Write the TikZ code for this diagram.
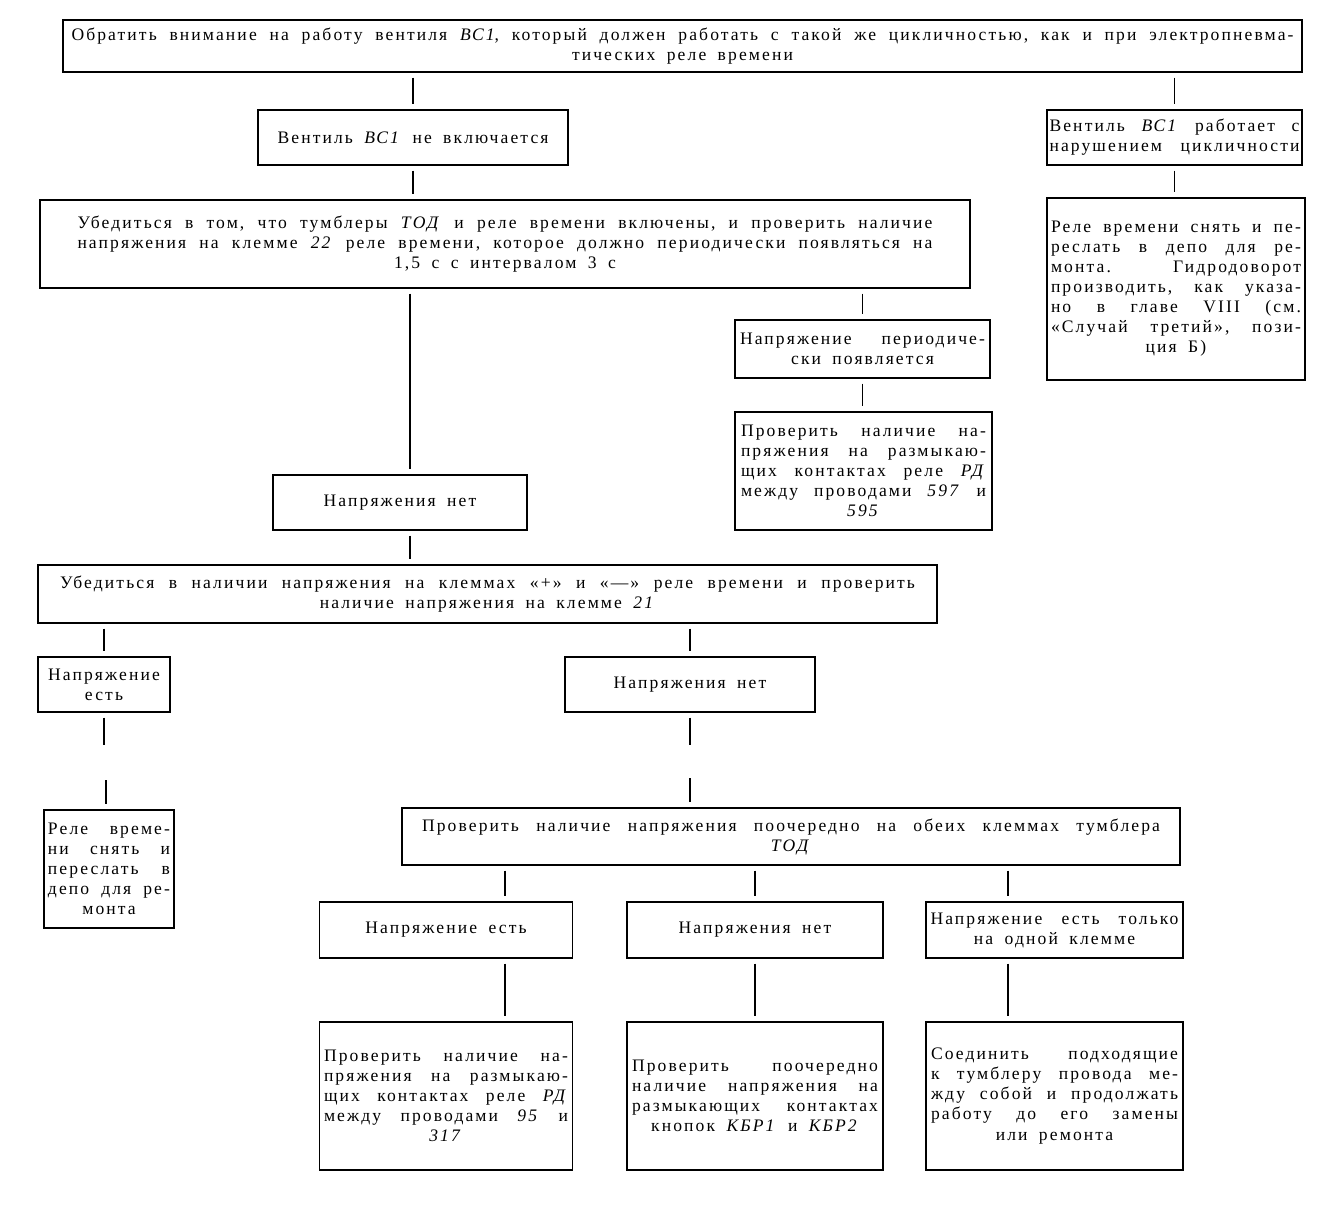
\documentclass[tikz,border=0pt]{standalone}
\usepackage{fontspec}
\setmainfont{Liberation Serif}[LetterSpace=12]
\usetikzlibrary{calc}
% text of the boxes; one justified line, one centred line
\newcommand\boxfont{\fontsize{10}{11.4}\selectfont\frenchspacing\spaceskip=0.65em\relax}
\newcommand\jl[1]{\leavevmode\hbox to\hsize{\spaceskip=0.35em plus 1fil\relax#1}\par}
\newcommand\cl[1]{\leavevmode\hbox to\hsize{\spaceskip=0.65em\relax\hfil#1\hfil}\par}

\begin{document}
\begin{tikzpicture}[x=0.02cm,y=-0.02cm,line width=0.8pt,font=\boxfont,
    panel/.style 2 args={draw,inner sep=0pt,minimum width=#1*0.02cm,minimum height=#2*0.02cm},
    tw/.code={\pgfmathsetlengthmacro\twlen{#1*0.02cm}\tikzset{text width=\twlen}},
    link/.style={shorten <=0.1cm,shorten >=0.1cm}]
            \useasboundingbox (0,0) rectangle (1336,1208);
            \node[panel={1239}{52},tw=1222] (watch) at (682.5,46) {\jl{Обратить внимание на работу вентиля \textit{ВС1}, который должен работать с такой же цикличностью, как и при электропневма-}\cl{тических реле времени}};
            \node[panel={310}{55}] (vent) at (413,137.5) {Вентиль \textit{ВС1} не включается};
            \node[panel={255}{55},tw=250] (cyc) at (1174.5,137.5) {\jl{Вентиль \textit{ВС1} работает с}\jl{нарушением цикличности}};
            \node[panel={930}{88},tw=855] (check) at (505,244) {\jl{Убедиться в том, что тумблеры \textit{ТОД} и реле времени включены, и проверить наличие}\jl{напряжения на клемме \textit{22} реле времени, которое должно периодически появляться на}\cl{1,5 с с интервалом 3 с}};
            \node[panel={258}{182},tw=250] (relay) at (1176,289) {\jl{Реле времени снять и пе-}\jl{реслать в депо для ре-}\jl{монта. Гидродоворот}\jl{производить, как указа-}\jl{но в главе VIII (см.}\jl{«Случай третий», пози-}\cl{ция Б)}};
            \node[panel={255}{58},tw=245] (periodic) at (862.5,349) {\jl{Напряжение периодиче-}\cl{ски появляется}};
            \node[panel={257}{118},tw=245] (rd597) at (863.5,471) {\jl{Проверить наличие на-}\jl{пряжения на размыкаю-}\jl{щих контактах реле \textit{РД}}\jl{между проводами \textit{597} и}\cl{\textit{595}}};
            \node[panel={254}{55}] (none1) at (400,502.5) {Напряжения нет};
            \node[panel={899}{58},tw=855] (poles) at (487.5,594) {\jl{Убедиться в наличии напряжения на клеммах «+» и «—» реле времени и проверить}\cl{наличие напряжения на клемме \textit{21}}};
            \node[panel={132}{55},tw=122] (yes1) at (104,684.5) {\cl{Напряжение}\cl{есть}};
            \node[panel={250}{55}] (no2) at (690,684.5) {Напряжения нет};
            \node[panel={130}{118},tw=122] (remove) at (109,869) {\jl{Реле време-}\jl{ни снять и}\jl{переслать в}\jl{депо для ре-}\cl{монта}};
            \node[panel={778}{57},tw=738] (tod) at (791,836.5) {\jl{Проверить наличие напряжения поочередно на обеих клеммах тумблера}\cl{\textit{ТОД}}};
            \node[panel={253}{56}] (yes3) at (446,930) {Напряжение есть};
            \node[panel={256}{56}] (no3) at (755,930) {Напряжения нет};
            \node[panel={257}{56},tw=248] (one) at (1054.5,930) {\jl{Напряжение есть только}\cl{на одной клемме}};
            \node[panel={253}{148},tw=244] (rd95) at (446,1096) {\jl{Проверить наличие на-}\jl{пряжения на размыкаю-}\jl{щих контактах реле \textit{РД}}\jl{между проводами \textit{95} и}\cl{\textit{317}}};
            \node[panel={256}{148},tw=246] (kbr) at (755,1096) {\jl{Проверить поочередно}\jl{наличие напряжения на}\jl{размыкающих контактах}\cl{кнопок \textit{КБР1} и \textit{КБР2}}};
            \node[panel={257}{148},tw=247] (join) at (1054.5,1096) {\jl{Соединить подходящие}\jl{к тумблеру провода ме-}\jl{жду собой и продолжать}\jl{работу до его замены}\cl{или ремонта}};
            % columns of the off-centre links and the ends of the broken ones
            \coordinate (colA) at (410,0);
            \coordinate (colC) at (505,0);
            \coordinate (colD) at (1008,0);
            \coordinate (gapA) at (104,750);
            \coordinate (gapB) at (106,775);
            \coordinate (gapC) at (690,750);
            \coordinate (gapD) at (690,773);
            \draw[link] (vent.north |- watch.south)--(vent.north);
            \draw[link] (cyc.north |- watch.south)--(cyc.north);
            \draw[link] (vent.south)--(vent.south |- check.north);
            \draw[link] (cyc.south)--(cyc.south |- relay.north);
            \draw[link] (periodic.north |- check.south)--(periodic.north);
            \draw[link] (periodic.south)--(periodic.south |- rd597.north);
            \draw[link] (colA |- check.south)--(colA |- none1.north);
            \draw[link] (colA |- none1.south)--(colA |- poles.north);
            \draw[link] (yes1.north |- poles.south)--(yes1.north);
            \draw[link] (no2.north |- poles.south)--(no2.north);
            \draw[link] (yes1.south)--(gapA);
            \draw[link] (gapB)--(gapB |- remove.north);
            \draw[link] (no2.south)--(gapC);
            \draw[link] (gapD)--(gapD |- tod.north);
            \draw[link] (colC |- tod.south)--(colC |- yes3.north);
            \draw[link] (no3.north |- tod.south)--(no3.north);
            \draw[link] (colD |- tod.south)--(colD |- one.north);
            \draw[link] (colC |- yes3.south)--(colC |- rd95.north);
            \draw[link] (no3.south)--(kbr.north);
            \draw[link] (colD |- one.south)--(colD |- join.north);
        \end{tikzpicture}
\end{document}
